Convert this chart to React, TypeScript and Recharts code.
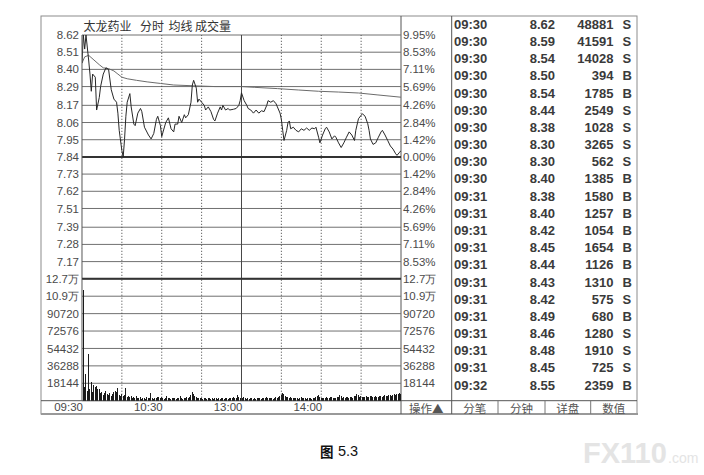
import { LineChart, Line, BarChart, Bar, XAxis, YAxis, CartesianGrid, ReferenceLine } from 'recharts'

// minutes counted from 09:30, 120 = 11:30 / 13:00
const PRICE_MINUTES = [
  0, 1, 2, 3, 5, 6, 7, 8, 10, 11, 13, 14, 16, 18, 20, 22, 24, 26, 27, 28,
  30, 31, 32, 33, 34, 36, 37, 39, 40, 42, 44, 45, 47, 50, 52, 54, 56, 57, 59, 60,
  61, 63, 65, 67, 69, 70, 72, 73, 75, 77, 78, 80, 82, 83, 84, 86, 87, 88, 90, 92,
  93, 95, 97, 99, 100, 102, 104, 105, 106, 108, 110, 111, 114, 116, 118, 119, 120, 122, 124, 125,
  127, 129, 131, 133, 135, 137, 139, 140, 142, 144, 146, 147, 149, 150, 151, 152, 154, 155, 156, 157,
  159, 161, 163, 165, 167, 169, 171, 173, 175, 176, 178, 179, 181, 183, 184, 186, 188, 190, 191, 193,
  195, 197, 199, 201, 203, 205, 206, 208, 210, 211, 213, 215, 216, 217, 219, 221, 223, 225, 226, 228,
  230, 232, 234, 236, 237, 239, 240,
]
const PRICE_VALUES = [
  8.44, 8.62, 8.53, 8.62, 8.46, 8.37, 8.26, 8.37, 8.35, 8.14, 8.22, 8.29, 8.37, 8.41, 8.4, 8.27, 8.21, 8.19, 8.12, 8.01,
  7.88, 7.84, 7.95, 8.1, 8.19, 8.245, 8.16, 8.05, 8.04, 8.12, 8.15, 8.13, 8.03, 7.98, 7.955, 7.99, 8.08, 8.1, 8.04, 7.97,
  8.0, 8.06, 8.09, 8.02, 8.0, 8.05, 8.05, 8.1, 8.06, 8.11, 8.09, 8.11, 8.19, 8.3, 8.33, 8.28, 8.19, 8.21, 8.19, 8.17,
  8.14, 8.16, 8.13, 8.08, 8.07, 8.12, 8.16, 8.14, 8.17, 8.14, 8.15, 8.14, 8.145, 8.15, 8.17, 8.2, 8.25, 8.2, 8.17, 8.15,
  8.14, 8.12, 8.14, 8.12, 8.135, 8.13, 8.17, 8.2, 8.19, 8.2, 8.18, 8.16, 8.12, 8.08, 8.01, 7.945, 8.01, 8.06, 8.07, 8.02,
  8.03, 8.01, 8.0, 8.02, 8.01, 8.025, 8.01, 8.025, 8.02, 8.03, 7.966, 7.93, 7.98, 8.02, 8.03, 8.0, 7.955, 7.975, 7.966, 7.93,
  7.9, 7.93, 7.966, 8.0, 7.98, 7.945, 8.01, 8.084, 8.106, 8.116, 8.1, 8.052, 8.01, 7.955, 7.92, 7.93, 7.966, 8.0, 8.01, 7.98,
  7.945, 7.91, 7.89, 7.86, 7.85, 7.87, 7.88,
]
const AVG_MINUTES = [0, 2, 5, 9, 13, 16, 20, 24, 27, 30, 34, 41, 49, 59, 69, 84, 100, 120, 130, 147, 163, 178, 193, 208, 222, 240]
const AVG_VALUES = [
  8.44, 8.48, 8.49, 8.46, 8.43, 8.41, 8.405, 8.39, 8.37, 8.35, 8.34, 8.33, 8.32, 8.31, 8.3, 8.295,
  8.29, 8.29, 8.285, 8.277, 8.268, 8.26, 8.255, 8.249, 8.237, 8.222,
]
// one bar per minute, 241 values
const VOLUMES = [
  5000, 115000, 14000, 28000, 10000, 49000, 12000, 19000, 9000, 16000,
  14000, 15000, 12000, 12500, 8000, 9000, 6000, 8500, 10000, 7000,
  6000, 8500, 5000, 7000, 9500, 10000, 9000, 13500, 6000, 5000,
  7000, 4500, 5500, 13000, 4000, 5000, 3500, 4500, 3000, 3500,
  2500, 4500, 3000, 2500, 3500, 2000, 3000, 2500, 2000, 3500,
  2500, 3000, 7600, 2500, 2000, 3000, 2500, 3500, 4000, 3000,
  3500, 2500, 2000, 3000, 5000, 2500, 3000, 2000, 2500, 3000,
  2500, 2000, 3000, 2500, 4500, 2500, 2000, 3000, 2500, 3500,
  3000, 4000, 6000, 9300, 7000, 5000, 3500, 3000, 2500, 3000,
  2500, 2000, 3000, 2500, 2000, 2500, 3000, 2000, 2500, 2000,
  2500, 3000, 2000, 2500, 2000, 3000, 2500, 2000, 2500, 3000,
  2000, 2500, 3000, 2500, 3500, 2500, 3000, 5900, 3500, 3000,
  4500, 3000, 4000, 2500, 2000, 2500, 2000, 2500, 3000, 2000,
  2500, 2000, 2500, 3000, 2500, 2000, 2500, 3000, 2500, 3500,
  3000, 2500, 3000, 2500, 2000, 3000, 3500, 3000, 4000, 5000,
  6000, 7600, 6500, 4500, 3500, 4000, 3000, 3500, 2500, 3000,
  2500, 3000, 2500, 2000, 3000, 3500, 2500, 3000, 2500, 2000,
  2500, 3000, 2500, 2000, 3000, 2500, 3500, 4500, 5500, 4000,
  3000, 2500, 3000, 2500, 3500, 3000, 2500, 3500, 4000, 3000,
  2500, 3000, 3500, 4000, 5500, 4500, 3000, 3500, 3000, 4000,
  3500, 3000, 4000, 3500, 3000, 4500, 5000, 6500, 5500, 4000,
  4500, 3500, 4000, 3500, 4500, 3500, 4000, 5000, 4500, 3500,
  4000, 4500, 3500, 4000, 4500, 5000, 4000, 4500, 5500, 5000,
  4500, 5500, 6000, 5000, 5500, 6500, 6000, 7000, 6500, 7500,
  7000,
]

const PREV_CLOSE = 7.84
const PRICE_DOMAIN = [7.06, 8.62]
const PRICE_TICKS = [8.62, 8.51, 8.4, 8.29, 8.17, 8.06, 7.95, 7.84, 7.73, 7.62, 7.51, 7.39, 7.28, 7.17]
const PRICE_LABELS = ['8.62', '8.51', '8.40', '8.29', '8.17', '8.06', '7.95', '7.84', '7.73', '7.62', '7.51', '7.39', '7.28', '7.17']
const PCT_LABELS = ['9.95%', '8.53%', '7.11%', '5.69%', '4.26%', '2.84%', '1.42%', '0.00%', '1.42%', '2.84%', '4.26%', '5.69%', '7.11%', '8.53%']
const VOL_TICKS = [18144, 36288, 54432, 72576, 90720, 108864, 127008]
const VOL_LABELS = ['18144', '36288', '54432', '72576', '90720', '10.9万', '12.7万']
const TIME_TICKS = [0, 60, 120, 180]
const TIME_LABELS = ['09:30', '10:30', '13:00', '14:00']
const GRID_MINUTES = [30, 60, 90, 150, 180, 210]
const SESSION_BREAK = 120

const TRADE_TIMES = [
  '09:30', '09:30', '09:30', '09:30', '09:30', '09:30', '09:30', '09:30', '09:30', '09:30', '09:31',
  '09:31', '09:31', '09:31', '09:31', '09:31', '09:31', '09:31', '09:31', '09:31', '09:31', '09:32',
]
const TRADE_PRICES = [
  '8.62', '8.59', '8.54', '8.50', '8.54', '8.44', '8.38', '8.30', '8.30', '8.40', '8.38',
  '8.40', '8.42', '8.45', '8.44', '8.43', '8.42', '8.49', '8.46', '8.48', '8.45', '8.55',
]
const TRADE_VOLS = [
  '48881', '41591', '14028', '394', '1785', '2549', '1028', '3265', '562', '1385', '1580',
  '1257', '1054', '1654', '1126', '1310', '575', '680', '1280', '1910', '725', '2359',
]
const TRADE_SIDES = ['S', 'S', 'S', 'B', 'B', 'S', 'S', 'S', 'S', 'B', 'B', 'B', 'B', 'B', 'B', 'B', 'S', 'B', 'S', 'S', 'S', 'B']
const BUTTONS = ['操作▲', '分笔', '分钟', '详盘', '数值']

// layout
const FRAME_L = 41
const FRAME_T = 16
const FRAME_R = 637
const FRAME_B = 414
const PLOT_L = 82
const PLOT_R = 401
const PLOT_T = 35
const MID_Y = 278.8
const PLOT_B = 400.7
const TABLE_L = 451.7
const BUTTON_X = [PLOT_R, TABLE_L, 498, 545, 590.7, FRAME_R]

const AXIS_FONT = '"Liberation Sans", Arial, sans-serif'
const CJK_FONT = '"Noto Sans CJK SC", sans-serif'
const tickStyle = { fontSize: 11.5, fill: '#4a4a4a', fontFamily: AXIS_FONT }

const priceData = PRICE_MINUTES.map((m, i) => ({ m, p: PRICE_VALUES[i] }))
const avgData = AVG_MINUTES.map((m, i) => ({ m, a: AVG_VALUES[i] }))
const volData = VOLUMES.map((v, i) => ({ m: i, v }))

const chartW = TABLE_L - FRAME_L
const chartH = FRAME_B - FRAME_T
const leftW = PLOT_L - FRAME_L
const rightW = TABLE_L - PLOT_R

function TimeTick({ x, y, payload }: any) {
  return (
    <text x={x + 1} y={y + 6.8} textAnchor="end" dominantBaseline="central" {...tickStyle}>
      {TIME_LABELS[TIME_TICKS.indexOf(payload.value)]}
    </text>
  )
}

function verticalGrid(yAxisId: string) {
  return [
    ...GRID_MINUTES.map((m) => (
      <ReferenceLine key={m} x={m} yAxisId={yAxisId} stroke="#3c3c3c" strokeWidth={1} strokeDasharray="1 2" />
    )),
    <ReferenceLine key="break" x={SESSION_BREAK} yAxisId={yAxisId} stroke="#444" />,
  ]
}

function StaticFrame() {
  const rowY = (i: number) => 24.3 + i * 17.18
  return (
    <svg width={704} height={475} style={{ position: 'absolute', left: 0, top: 0 }}>
      <rect x={FRAME_L} y={FRAME_T} width={FRAME_R - FRAME_L} height={FRAME_B - FRAME_T} fill="none" stroke="#8c8c8c" />
      <line x1={FRAME_L} x2={FRAME_R + 1} y1={FRAME_B} y2={FRAME_B} stroke="#999" strokeWidth={2} />
      <line x1={PLOT_R} x2={PLOT_R} y1={FRAME_T} y2={FRAME_B} stroke="#555" />
      <line x1={TABLE_L} x2={TABLE_L} y1={FRAME_T} y2={FRAME_B} stroke="#555" />
      <line x1={FRAME_L} x2={FRAME_R} y1={PLOT_B} y2={PLOT_B} stroke="#555" />
      {BUTTON_X.slice(2, 5).map((x) => (
        <line key={x} x1={x} x2={x} y1={PLOT_B} y2={FRAME_B} stroke="#777" />
      ))}
      {BUTTONS.map((b, i) => (
        <text
          key={b}
          x={(BUTTON_X[i] + BUTTON_X[i + 1]) / 2}
          y={408}
          textAnchor="middle"
          dominantBaseline="central"
          fontSize={11.5}
          fill="#555"
          fontFamily={CJK_FONT}
        >
          {b}
        </text>
      ))}

      <g fontFamily={CJK_FONT} fontSize={12} fill="#333" dominantBaseline="central">
        <text x={83.5} y={25.5}>太龙药业</text>
        <text x={140} y={25.5}>分时</text>
        <text x={168.5} y={25.5}>均线</text>
        <text x={195} y={25.5}>成交量</text>
      </g>

      <g fontFamily={AXIS_FONT} fontSize={13} fontWeight="bold" fill="#3a3a3a" dominantBaseline="central">
        {TRADE_TIMES.map((t, i) => (
          <g key={i}>
            <text x={454} y={rowY(i)}>{t}</text>
            <text x={555} y={rowY(i)} textAnchor="end">{TRADE_PRICES[i]}</text>
            <text x={613.5} y={rowY(i)} textAnchor="end">{TRADE_VOLS[i]}</text>
            <text x={622.5} y={rowY(i)}>{TRADE_SIDES[i]}</text>
          </g>
        ))}
      </g>

      <text x={320} y={451} dominantBaseline="central" fontFamily={CJK_FONT} fontSize={13.5} fontWeight="bold" fill="#111">图</text>
      <text x={338} y={451} dominantBaseline="central" fontFamily={AXIS_FONT} fontSize={14.5} fill="#111">5.3</text>

      <text x={583} y={462.5} fontFamily={AXIS_FONT} fontSize={29} fontWeight="bold" fill="#e4e4e4">FX110</text>
      <text x={668} y={462.5} fontFamily={AXIS_FONT} fontSize={14} fill="#e4e4e4">.com</text>
    </svg>
  )
}

export default function App() {
  return (
    <div style={{ position: 'fixed', left: 0, top: 0, width: 704, height: 475, background: '#fff', overflow: 'hidden' }}>
      <StaticFrame />

      <div style={{ position: 'absolute', left: FRAME_L, top: FRAME_T }}>
        <LineChart width={chartW} height={chartH} margin={{ top: PLOT_T - FRAME_T, right: 0, bottom: FRAME_B - MID_Y, left: 0 }}>
          <XAxis dataKey="m" type="number" domain={[0, 240]} hide allowDataOverflow />
          <YAxis
            yAxisId="price"
            width={leftW}
            domain={PRICE_DOMAIN}
            ticks={PRICE_TICKS}
            interval={0}
            tickFormatter={(v: number) => PRICE_LABELS[PRICE_TICKS.indexOf(v)]}
            tick={tickStyle}
            tickLine={false}
            tickSize={0}
            tickMargin={3}
            axisLine={{ stroke: '#555' }}
            allowDataOverflow
          />
          <YAxis
            yAxisId="pct"
            orientation="right"
            width={rightW}
            domain={PRICE_DOMAIN}
            ticks={PRICE_TICKS}
            interval={0}
            tickFormatter={(v: number) => PCT_LABELS[PRICE_TICKS.indexOf(v)]}
            tick={{ ...tickStyle, textAnchor: 'start' }}
            tickLine={false}
            tickSize={0}
            tickMargin={2}
            axisLine={false}
            allowDataOverflow
          />
          <CartesianGrid yAxisId="price" vertical={false} stroke="#6f6f6f" />
          {verticalGrid('price')}
          <ReferenceLine yAxisId="price" y={PREV_CLOSE} stroke="#333" strokeWidth={2} />
          <Line
            yAxisId="price"
            data={avgData}
            dataKey="a"
            type="linear"
            stroke="#6a6a6a"
            strokeWidth={1}
            dot={false}
            isAnimationActive={false}
          />
          <Line
            yAxisId="price"
            data={priceData}
            dataKey="p"
            type="linear"
            stroke="#262626"
            strokeWidth={1}
            dot={false}
            isAnimationActive={false}
          />
        </LineChart>
      </div>

      <div style={{ position: 'absolute', left: FRAME_L, top: FRAME_T }}>
        <BarChart
          width={chartW}
          height={chartH}
          data={volData}
          margin={{ top: MID_Y - FRAME_T, right: 0, bottom: 0, left: 0 }}
          barCategoryGap={0}
        >
          <XAxis
            dataKey="m"
            type="number"
            domain={[0, 240]}
            ticks={TIME_TICKS}
            interval={0}
            height={FRAME_B - PLOT_B}
            tick={<TimeTick />}
            tickLine={false}
            tickSize={0}
            tickMargin={0}
            axisLine={false}
            allowDataOverflow
          />
          <YAxis
            yAxisId="vol"
            width={leftW}
            domain={[0, 127008]}
            ticks={VOL_TICKS}
            interval={0}
            tickFormatter={(v: number) => VOL_LABELS[VOL_TICKS.indexOf(v)]}
            tick={tickStyle}
            tickLine={false}
            tickSize={0}
            tickMargin={3}
            axisLine={{ stroke: '#555' }}
            allowDataOverflow
          />
          <YAxis
            yAxisId="volR"
            orientation="right"
            width={rightW}
            domain={[0, 127008]}
            ticks={VOL_TICKS}
            interval={0}
            tickFormatter={(v: number) => VOL_LABELS[VOL_TICKS.indexOf(v)]}
            tick={{ ...tickStyle, textAnchor: 'start' }}
            tickLine={false}
            tickSize={0}
            tickMargin={2}
            axisLine={false}
            allowDataOverflow
          />
          <CartesianGrid yAxisId="vol" vertical={false} stroke="#6f6f6f" />
          {verticalGrid('vol')}
          <ReferenceLine yAxisId="vol" y={127008} stroke="#333" strokeWidth={2} />
          <Bar
            yAxisId="vol"
            dataKey="v"
            fill="#1a1a1a"
            barSize={1}
            shapeRendering="crispEdges"
            isAnimationActive={false}
          />
        </BarChart>
      </div>
    </div>
  )
}
